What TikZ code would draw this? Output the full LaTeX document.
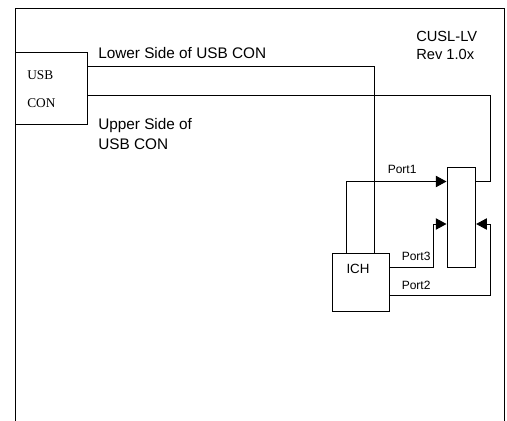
\documentclass[tikz,border=0pt]{standalone}
\usepackage{fontspec}
\setmainfont{Liberation Sans}
\newfontfamily\timesfont{Liberation Serif}
\usetikzlibrary{arrows.meta}

\tikzset{
  box/.style={draw, line width=0.75pt, inner sep=0pt, anchor=north west},
  txt/.style={inner sep=0.75pt, font=\fontsize{11.5}{11.5}\selectfont},
  porttxt/.style={inner sep=0.75pt, font=\fontsize{9}{9}\selectfont},
  wire/.style={line width=0.75pt},
  portarr/.style={wire, -{Triangle[length=8pt, width=8.5pt]}}
}

\begin{document}
\begin{tikzpicture}[x=0.75pt,y=0.75pt,yscale=-1,xscale=1]
\useasboundingbox (0,0) rectangle (507,421);

%Outer frame
\draw [wire] (15,421) -- (15,8) -- (504,8) -- (504,421) ;

%Shape: Rectangle [USB CON]
\node [box, minimum width=54pt, minimum height=54pt] (usb) at (15,51.5) {};
%Shape: Rectangle [ICH]
\node [box, minimum width=43pt, minimum height=43.5pt] (ich) at (331.5,253) {};
%Shape: Rectangle [switch]
\node [box, minimum width=21.5pt, minimum height=75pt] (mux) at (446.5,166.5) {};

%Lower side line
\draw [wire] (usb.east |- 0,66) -| (ich.north -| 374.5,0) ;
%Upper side line
\draw [wire] (usb.east |- 0,95) -| (490.5,181.5) -- (mux.east |- 0,181.5) ;
%Port1
\draw [portarr] (ich.north -| 346,0) |- (mux.west |- 0,181.5) ;
%Port3
\draw [portarr] (ich.east |- 0,267) -| (433,224) -- (mux.west |- 0,224) ;
%Port2
\draw [portarr] (ich.east |- 0,295.5) -| (490.5,224) -- (mux.east |- 0,224) ;

% Text Node
\node [inner sep=0.75pt, anchor=west, font=\timesfont\fontsize{10}{10}\selectfont] (usbtxt) at (26,75) {USB};
% Text Node
\node [inner sep=0.75pt, anchor=west, font=\timesfont\fontsize{10}{10}\selectfont] (contxt) at (26,103) {CON};
% Text Node
\node [txt, anchor=west] (lowtxt) at (97,53) {Lower Side of USB CON};
% Text Node
\node [txt, anchor=north west, align=left, font=\fontsize{11.5}{15}\selectfont] (uptxt) at (97,117) {Upper Side of\\USB CON};
% Text Node
\node [txt, anchor=north west, align=left, font=\fontsize{11}{13.5}\selectfont] (revtxt) at (415,30) {CUSL-LV\\Rev 1.0x};
% Text Node
\node [inner sep=0.75pt, font=\fontsize{10}{10}\selectfont] (ichtxt) at (358,269) {ICH};
% Text Node
\node [porttxt, anchor=west] (p1txt) at (386.5,169) {Port1};
% Text Node
\node [porttxt, anchor=west] (p3txt) at (400.5,256.5) {Port3};
% Text Node
\node [porttxt, anchor=west] (p2txt) at (400.5,285) {Port2};
\end{tikzpicture}
\end{document}
